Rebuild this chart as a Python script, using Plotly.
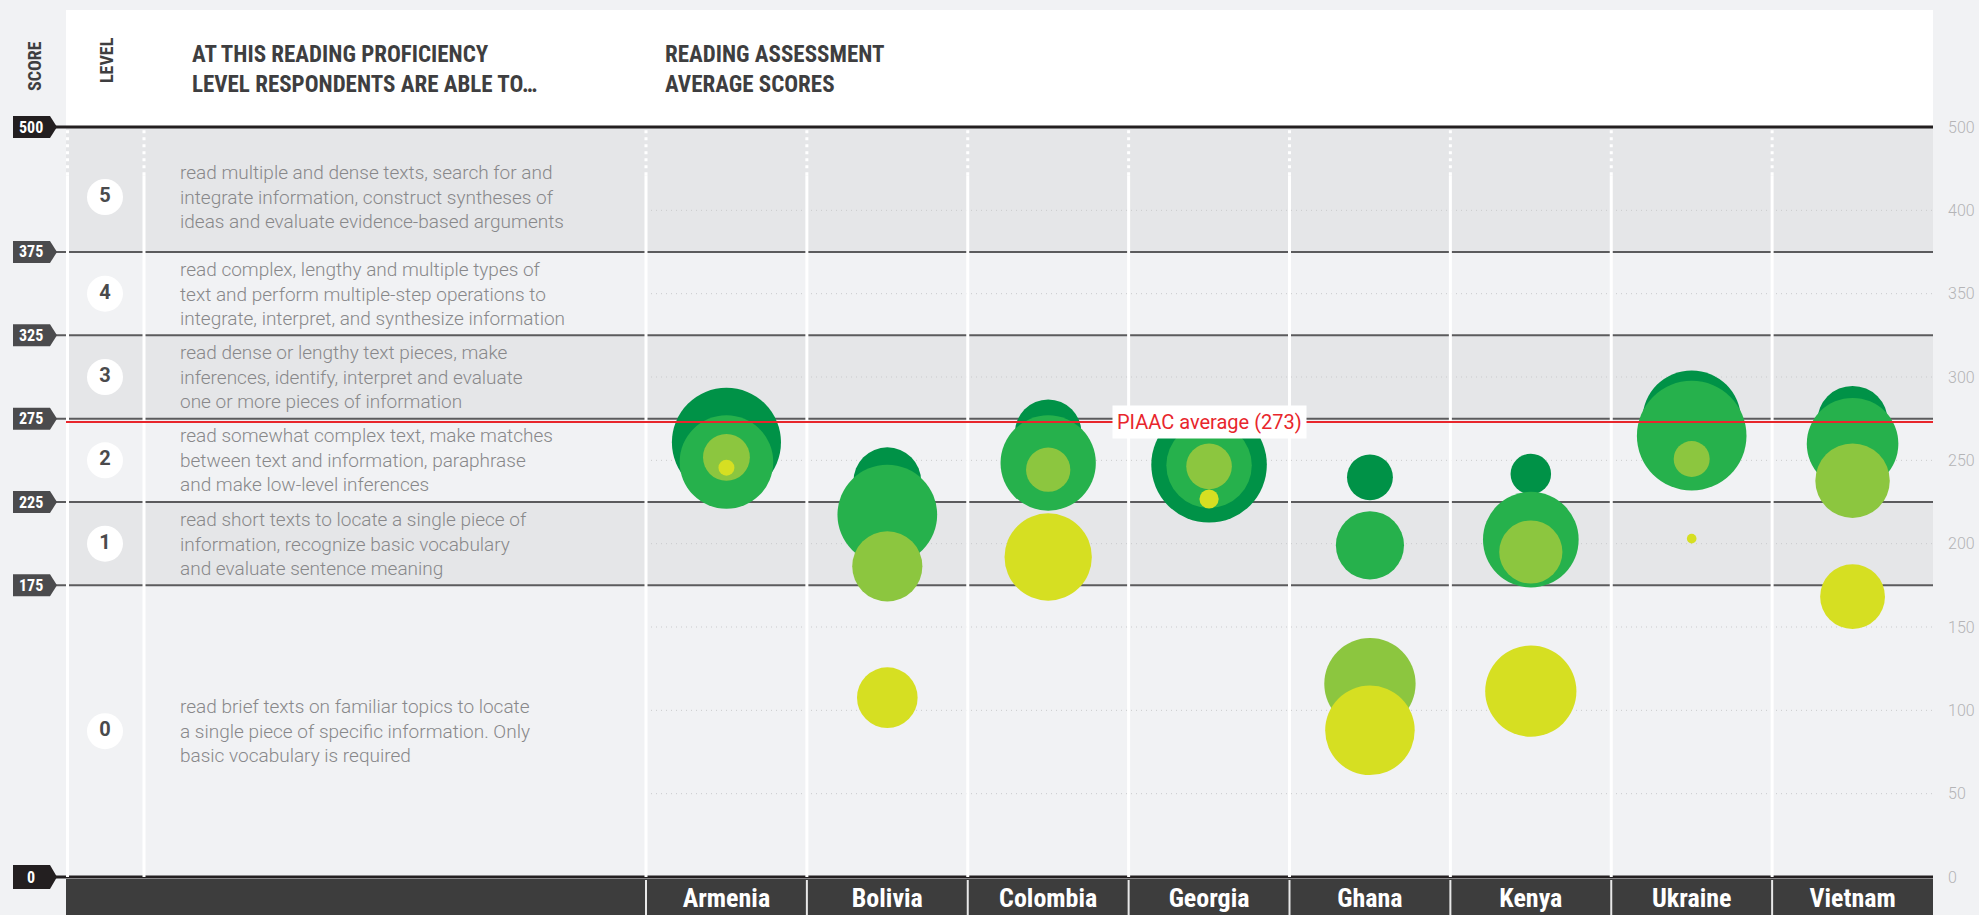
import plotly.graph_objects as go

# ---------------- data ----------------
countries = ["Armenia", "Bolivia", "Colombia", "Georgia", "Ghana", "Kenya", "Ukraine", "Vietnam"]

group_names = ["Group A", "Group B", "Group C", "Group D"]
group_colors = ["#009247", "#26b14c", "#8cc63f", "#d6df22"]

scores_a = [260.8, 237.5, 266.5, 247.3, 239.8, 241.8, 274.4, 273.5]
share_a = [51.5, 19.8, 19.2, 57.8, 9.1, 7.1, 42.0, 21.5]
scores_b = [249.0, 217.4, 248.4, 247.0, 199.0, 202.4, 264.8, 260.0]
share_b = [37.9, 43.0, 39.3, 31.6, 20.1, 39.6, 52.0, 36.3]
scores_c = [251.8, 186.4, 244.4, 246.4, 116.0, 195.0, 250.8, 237.8]
share_c = [9.5, 21.3, 8.5, 9.0, 36.1, 17.3, 5.6, 24.0]
scores_d = [245.6, 107.6, 192.0, 226.8, 88.0, 111.5, 203.0, 168.2]
share_d = [1.1, 15.9, 33.0, 1.6, 34.7, 36.0, 0.4, 18.2]

levels = ["0", "1", "2", "3", "4", "5"]
level_bounds = [0, 175, 225, 275, 325, 375, 500]
level_text = [
    "read brief texts on familiar topics to locate<br>a single piece of specific information. Only<br>basic vocabulary is required",
    "read short texts to locate a single piece of<br>information, recognize basic vocabulary<br>and evaluate sentence meaning",
    "read somewhat complex text, make matches<br>between text and information, paraphrase<br>and make low-level inferences",
    "read dense or lengthy text pieces, make<br>inferences, identify, interpret and evaluate<br>one or more pieces of information",
    "read complex, lengthy and multiple types of<br>text and perform multiple-step operations to<br>integrate, interpret, and synthesize information",
    "read multiple and dense texts, search for and<br>integrate information, construct syntheses of<br>ideas and evaluate evidence-based arguments",
]
piaac_avg = 273
right_ticks = [0, 50, 100, 150, 200, 250, 300, 350, 400, 500]
grid_vals = [50, 100, 150, 200, 250, 300, 350, 400]

# ---------------- layout helpers ----------------
W, H = 1979, 915
L, R, T, B = 66, 46, 127, 38
PW, PH = W - L - R, H - T - B
COL0, COLW = 646, (1933 - 646) / 8
YMAX = 450

NARROW = "Roboto Condensed, Liberation Sans Narrow, Roboto, sans-serif"
ROB = "Roboto, Open Sans, sans-serif"


def ys(v):
    # score axis is compressed above 400
    return v if v <= 400 else 400 + (v - 400) / 2


def pxx(px):
    return (px - L) / PW


def pxy(py):
    return 1 - (py - T) / PH


def dx(px):
    return (px - COL0) / COLW - 0.5


def ypx(v):
    return T + (YMAX - ys(v)) * PH / YMAX


BG = "#f1f2f4"
DARK_BAND = "#e5e6e8"

shapes = []
annotations = []

# header white box
shapes.append(dict(type="rect", xref="paper", yref="paper", x0=0, x1=1, y0=1, y1=pxy(10),
                   fillcolor="white", line=dict(width=0), layer="below"))

# bands
for i in range(6):
    lo, hi = level_bounds[i], level_bounds[i + 1]
    col = DARK_BAND if i % 2 == 1 else BG
    shapes.append(dict(type="rect", xref="paper", yref="y", x0=0, x1=1, y0=ys(lo), y1=ys(hi),
                       fillcolor=col, line=dict(width=0), layer="below"))

# dotted grid in the country area
for g in grid_vals:
    shapes.append(dict(type="line", xref="x", yref="y", x0=-0.5, x1=7.5, y0=ys(g), y1=ys(g),
                       line=dict(color="#c9cacc", width=1, dash="1px,4px"), layer="below"))

# white vertical separators
sep_x = [dx(67.5), dx(144)] + [k - 0.5 for k in range(8)]
for sx in sep_x:
    shapes.append(dict(type="line", xref="x", yref="y", x0=sx, x1=sx, y0=0, y1=421,
                       line=dict(color="white", width=3), layer="below"))
    shapes.append(dict(type="line", xref="x", yref="y", x0=sx, x1=sx, y0=421, y1=449,
                       line=dict(color="white", width=3, dash="3px,4px"), layer="below"))

# level lines
for b in level_bounds[1:-1]:
    shapes.append(dict(type="line", xref="paper", yref="y", x0=pxx(55), x1=1, y0=ys(b), y1=ys(b),
                       line=dict(color="#5b5b5d", width=2), layer="below"))

# bottom dark bar
shapes.append(dict(type="rect", xref="paper", yref="paper", x0=0, x1=1, y0=pxy(879), y1=pxy(930),
                   fillcolor="#3d3d3d", line=dict(width=0), layer="below"))
for k in range(8):
    xpx = COL0 + k * COLW
    shapes.append(dict(type="line", xref="paper", yref="paper", x0=pxx(xpx), x1=pxx(xpx),
                       y0=pxy(880), y1=pxy(930), line=dict(color="#e8e8e8", width=2), layer="below"))

# top and bottom black lines
for yv in (0, 1):
    shapes.append(dict(type="line", xref="paper", yref="paper", x0=pxx(55), x1=1, y0=yv, y1=yv,
                       line=dict(color="#231f20", width=3), layer="below"))

# left tags
tag_vals = [500, 375, 325, 275, 225, 175, 0]
for v in tag_vals:
    yc = ypx(v)
    hh = 11 if v != 0 else 12
    col = "#231f20" if v in (0, 500) else "#4b4b4d"
    x0, xb, xt = pxx(13), pxx(50), pxx(57)
    y0, y1, ym = pxy(yc + hh), pxy(yc - hh), pxy(yc)
    shapes.append(dict(type="path", xref="paper", yref="paper",
                       path=f"M {x0},{y0} L {xb},{y0} L {xt},{ym} L {xb},{y1} L {x0},{y1} Z",
                       fillcolor=col, line=dict(width=0), layer="below"))
    annotations.append(dict(xref="paper", yref="paper", x=pxx(31), y=ym, text=str(v),
                            showarrow=False, xanchor="center", yanchor="middle",
                            font=dict(family=NARROW, size=16, color="white", weight="bold")))

# PIAAC average line
shapes.append(dict(type="line", xref="paper", yref="y", x0=0, x1=1, y0=piaac_avg, y1=piaac_avg,
                   line=dict(color="#e8262c", width=2), layer="above"))
annotations.append(dict(xref="x", yref="y", x=3, y=piaac_avg, text="PIAAC average (273)",
                        showarrow=False, bgcolor="white", borderpad=4,
                        font=dict(family=ROB, size=20, color="#e8262c")))

# band label positions
band_mid = []
for i in range(6):
    lo, hi = ys(level_bounds[i]), min(ys(level_bounds[i + 1]), 441)
    band_mid.append((lo + hi) / 2)

for i in range(6):
    annotations.append(dict(xref="x", yref="y", x=dx(178), y=band_mid[i], text=level_text[i],
                            showarrow=False, xanchor="left", yanchor="middle", align="left",
                            font=dict(family=ROB, size=19, color="#88888a", weight=300)))


# headers
def hdr(x, y, text, size=23, angle=0, anchor="left"):
    annotations.append(dict(xref="paper", yref="paper", x=pxx(x), y=pxy(y), text=text,
                            showarrow=False, xanchor=anchor, yanchor="middle", textangle=angle,
                            font=dict(family=NARROW, size=size, color="#3e3e40", weight="bold")))


hdr(34, 66, "SCORE", size=18, angle=-90, anchor="center")
hdr(106, 60, "LEVEL", size=18, angle=-90, anchor="center")
hdr(190, 54, "AT THIS READING PROFICIENCY")
hdr(190, 85, "LEVEL RESPONDENTS ARE ABLE TO…")
hdr(663, 54, "READING ASSESSMENT")
hdr(663, 85, "AVERAGE SCORES")

# ---------------- traces ----------------
fig = go.Figure()

# level number circles
fig.add_trace(go.Scatter(
    x=[dx(105)] * 6, y=band_mid, mode="markers+text", text=levels,
    textposition="middle center", hoverinfo="skip", showlegend=False,
    marker=dict(size=36, color="white", line=dict(width=0)),
    textfont=dict(family=ROB, size=20, color="#4a4a4c", weight="bold"),
))

K = 7.6
sizeref = 1 / (2 * K * K)
for name, color, sc, sh in zip(group_names, group_colors,
                               [scores_a, scores_b, scores_c, scores_d],
                               [share_a, share_b, share_c, share_d]):
    fig.add_trace(go.Scatter(
        x=list(range(len(countries))), y=[ys(v) for v in sc], mode="markers", name=name,
        customdata=list(zip(countries, sc, sh)),
        hovertemplate="%{customdata[0]}<br>Score: %{customdata[1]}<br>Share: %{customdata[2]}%<extra>" + name + "</extra>",
        marker=dict(size=sh, sizemode="area", sizeref=sizeref, color=color, opacity=1,
                    line=dict(width=0)),
        showlegend=False,
    ))

fig.update_layout(
    width=W, height=H, autosize=False,
    margin=dict(l=L, r=R, t=T, b=B, pad=0, autoexpand=False),
    paper_bgcolor=BG, plot_bgcolor="rgba(0,0,0,0)",
    shapes=shapes, annotations=annotations,
    showlegend=False,
    xaxis=dict(range=[dx(L), dx(W - R)], tickvals=list(range(len(countries))), ticktext=countries,
               showgrid=False, zeroline=False, showline=False, ticks="", ticklabelstandoff=3,
               automargin=False,
               tickfont=dict(family=NARROW, size=26, color="white", weight="bold"), fixedrange=True),
    yaxis=dict(range=[0, YMAX], side="right", tickvals=[ys(v) for v in right_ticks],
               ticktext=[str(v) for v in right_ticks], showgrid=False, zeroline=False,
               showline=False, ticks="", ticklabelstandoff=14, automargin=False,
               tickfont=dict(family=ROB, size=16, color="#b4b4b6", weight=300), fixedrange=True),
)

fig.write_html(
    "out.html",
    config={"displayModeBar": False},
    post_script="document.body.style.margin='0px';document.body.style.overflow='hidden';",
)
